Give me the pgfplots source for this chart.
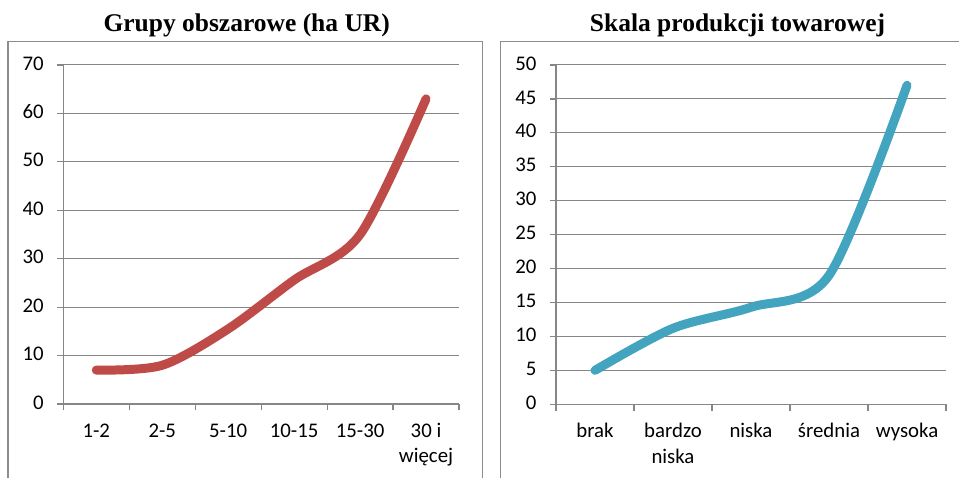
\documentclass[border=0pt]{standalone}
\usepackage{pgfplots}
\pgfplotsset{compat=1.18}
\usepackage{fontspec}
\setmainfont{Carlito}
\newfontfamily\titlefont{Liberation Serif}
\definecolor{axgray}{RGB}{134,134,134}
\definecolor{framegray}{RGB}{140,140,140}
\definecolor{redline}{RGB}{190,75,72}
\definecolor{tealline}{RGB}{66,164,190}
\pgfplotsset{
  mystyle/.style={
    scale only axis,
    axis lines*=left,
    axis line style={axgray, line width=1.5pt},
    ymajorgrids,
    grid style={axgray, line width=1pt},
    tick align=outside,
    major tick length=6pt,
    minor tick length=6.5pt,
    tick style={axgray, line width=1.2pt},
    major x tick style={draw=none},
    every tick label/.append style={font=\fontsize{20.8}{25.5}\selectfont, text=black},
    /pgf/number format/assume math mode=true,
    yticklabel style={xshift=-10pt},
    xticklabel style={align=center, yshift=-6pt},
    typeset ticklabels with strut,
    enlargelimits=false,
    clip=false,
  }
}
\begin{document}
\begin{tikzpicture}[x=1pt,y=1pt]
\useasboundingbox (0,0) rectangle (959,478);
% frames
\draw[framegray, line width=1.2pt] (8,-5) -- (8,436.5) -- (482.5,436.5) -- (482.5,-5);
\draw[framegray, line width=1.2pt] (500.5,-5) -- (500.5,436.5) -- (965,436.5);
% titles
\node[anchor=base, font=\titlefont\bfseries\fontsize{25.5}{30}\selectfont] at (246.7,446.3) {Grupy obszarowe (ha UR)};
\node[anchor=base, font=\titlefont\bfseries\fontsize{25.5}{30}\selectfont] at (737.5,446.3) {Skala produkcji towarowej};

\begin{axis}[mystyle,
  at={(63.3pt,74pt)}, anchor=south west,
  width=395.7pt, height=339pt,
  xmin=0.5, xmax=6.5, ymin=0, ymax=70,
  ytick={0,10,...,70},
  xtick={1,...,6},
  xticklabels={1-2,2-5,5-10,10-15,15-30,{30 i\\więcej}},
  minor xtick={0.5,1.5,...,6.5},
]
\addplot[redline, line width=9pt, line cap=round, smooth, tension=0.5] coordinates {
  (1,7) (2,8) (3,15.5) (4,25.6) (5,35) (6,63)
};
\end{axis}

\begin{axis}[mystyle,
  at={(556pt,73.7pt)}, anchor=south west,
  width=390pt, height=339.3pt,
  xmin=0.5, xmax=5.5, ymin=0, ymax=50,
  ytick={0,5,...,50},
  xtick={1,...,5},
  xticklabels={brak,{bardzo\\niska},niska,średnia,wysoka},
  minor xtick={0.5,1.5,...,5.5},
]
\addplot[tealline, line width=9pt, line cap=round, smooth, tension=0.5] coordinates {
  (1,5) (2,11.2) (3,14.3) (4,19) (5,47)
};
\end{axis}
\end{tikzpicture}
\end{document}
